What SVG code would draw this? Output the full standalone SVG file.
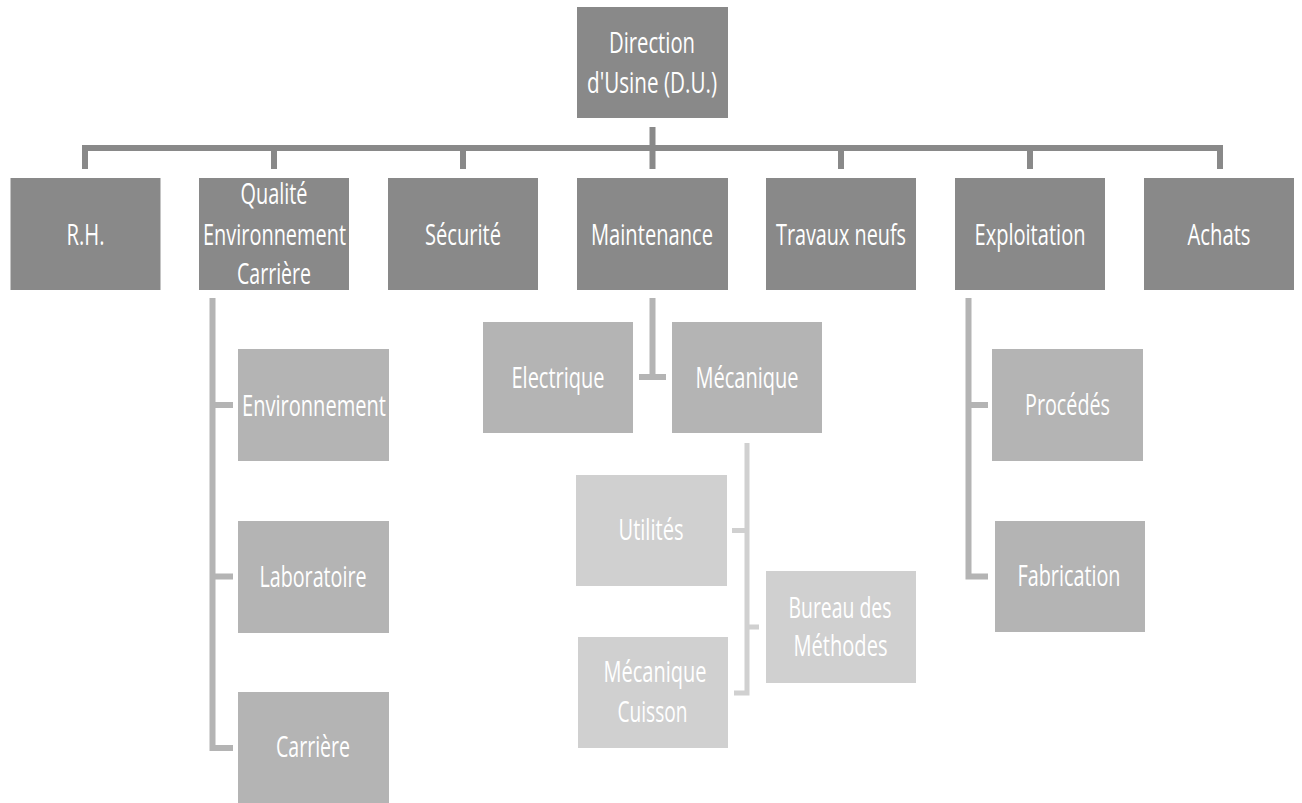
<svg xmlns="http://www.w3.org/2000/svg" width="1302" height="803" viewBox="0 0 1302 803">
<style>
.l1{fill:#898989}
.l2{fill:#b4b4b4}
.l3{fill:#d0d0d0}
text{font-family:"Open Sans","Liberation Sans",sans-serif;font-size:30px;fill:#ffffff;text-anchor:middle}
.c1{fill:none;stroke:#898989;stroke-width:6}
.c2{fill:none;stroke:#b4b4b4;stroke-width:6}
.c3{fill:none;stroke:#d0d0d0;stroke-width:5}
</style>
<rect width="1302" height="803" fill="#ffffff"/>
<g id="connectors">
<path class="c1" d="M85,169 V148 H1220 V169"/>
<path class="c1" d="M274,148 V169 M463,148 V169 M841,148 V169 M1030,148 V169 M652.5,127 V169"/>
<path class="c2" d="M212.5,298 V748 H233 M212.5,405 H233 M212.5,576.5 H233"/>
<path class="c2" d="M652.5,298 V377 M639,377 H666"/>
<path class="c3" d="M747,443 V693 H734 M732,530.5 H747 M747,627 H759"/>
<path class="c2" d="M968.5,298 V576.5 H988 M968.5,405 H988"/>
</g>
<g id="du"><rect class="l1" x="577" y="7" width="151" height="111"/><text x="652" y="53" textLength="86" lengthAdjust="spacingAndGlyphs">Direction</text><text x="652" y="93" textLength="130" lengthAdjust="spacingAndGlyphs">d'Usine (D.U.)</text></g>
<g id="rh"><rect class="l1" x="10.5" y="178" width="150" height="112"/><text x="85.5" y="245" textLength="38" lengthAdjust="spacingAndGlyphs">R.H.</text></g>
<g id="qec"><rect class="l1" x="199" y="178" width="150" height="112"/><text x="274" y="204" textLength="67" lengthAdjust="spacingAndGlyphs">Qualité</text><text x="274.5" y="245" textLength="143" lengthAdjust="spacingAndGlyphs">Environnement</text><text x="274" y="284" textLength="74" lengthAdjust="spacingAndGlyphs">Carrière</text></g>
<g id="securite"><rect class="l1" x="388" y="178" width="150" height="112"/><text x="463" y="245" textLength="76" lengthAdjust="spacingAndGlyphs">Sécurité</text></g>
<g id="maintenance"><rect class="l1" x="577" y="178" width="151" height="112"/><text x="652" y="245" textLength="122" lengthAdjust="spacingAndGlyphs">Maintenance</text></g>
<g id="travaux"><rect class="l1" x="766" y="178" width="150" height="112"/><text x="841" y="245" textLength="130" lengthAdjust="spacingAndGlyphs">Travaux neufs</text></g>
<g id="exploitation"><rect class="l1" x="955" y="178" width="150" height="112"/><text x="1030" y="245" textLength="111" lengthAdjust="spacingAndGlyphs">Exploitation</text></g>
<g id="achats"><rect class="l1" x="1144" y="178" width="150" height="112"/><text x="1219" y="245" textLength="63" lengthAdjust="spacingAndGlyphs">Achats</text></g>
<g id="environnement"><rect class="l2" x="238" y="349" width="151" height="112"/><text x="314" y="416" textLength="144" lengthAdjust="spacingAndGlyphs">Environnement</text></g>
<g id="laboratoire"><rect class="l2" x="238" y="521" width="151" height="112"/><text x="313" y="587" textLength="107" lengthAdjust="spacingAndGlyphs">Laboratoire</text></g>
<g id="carriere"><rect class="l2" x="238" y="692" width="151" height="112"/><text x="313" y="757" textLength="74" lengthAdjust="spacingAndGlyphs">Carrière</text></g>
<g id="electrique"><rect class="l2" x="483" y="322" width="150" height="111"/><text x="558" y="388" textLength="93" lengthAdjust="spacingAndGlyphs">Electrique</text></g>
<g id="mecanique"><rect class="l2" x="672" y="322" width="150" height="111"/><text x="747" y="388" textLength="103" lengthAdjust="spacingAndGlyphs">Mécanique</text></g>
<g id="utilites"><rect class="l3" x="576" y="475" width="151" height="111"/><text x="651" y="540" textLength="65" lengthAdjust="spacingAndGlyphs">Utilités</text></g>
<g id="mecanique-cuisson"><rect class="l3" x="578" y="637" width="150" height="111"/><text x="655" y="682" textLength="103" lengthAdjust="spacingAndGlyphs">Mécanique</text><text x="652.5" y="722" textLength="70" lengthAdjust="spacingAndGlyphs">Cuisson</text></g>
<g id="bureau-methodes"><rect class="l3" x="766" y="571" width="150" height="112"/><text x="840" y="618" textLength="103" lengthAdjust="spacingAndGlyphs">Bureau des</text><text x="840.5" y="656" textLength="94" lengthAdjust="spacingAndGlyphs">Méthodes</text></g>
<g id="procedes"><rect class="l2" x="992" y="349" width="151" height="112"/><text x="1067.5" y="415" textLength="85" lengthAdjust="spacingAndGlyphs">Procédés</text></g>
<g id="fabrication"><rect class="l2" x="995" y="521" width="150" height="111"/><text x="1069" y="586" textLength="103" lengthAdjust="spacingAndGlyphs">Fabrication</text></g>
</svg>
